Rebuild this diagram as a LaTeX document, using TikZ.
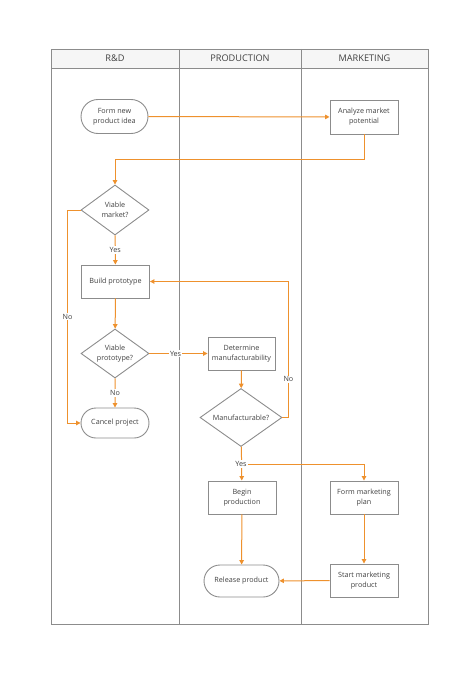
\documentclass[tikz,border=0pt]{standalone}
\usepackage{fontspec}
\setmainfont{Open Sans}
\usepackage{tikz}
\usetikzlibrary{shapes.geometric,shapes.misc,arrows.meta}
\definecolor{flowc}{RGB}{238,145,45}
\definecolor{edgec}{RGB}{140,140,140}
\definecolor{txtc}{RGB}{65,65,65}

\begin{document}
\begin{tikzpicture}[x=1pt,y=-1pt,
  every node/.style={font=\fontsize{7.2}{10}\selectfont,text=txtc,align=center},
  box/.style={draw=edgec,line width=0.9pt,rectangle,minimum width=68pt,minimum height=33pt,inner sep=0pt},
  term/.style={draw=edgec,line width=0.9pt,rounded rectangle,minimum width=68pt,minimum height=32pt,inner sep=0pt},
  decide/.style={draw=edgec,line width=0.9pt,diamond,aspect=1.4,minimum width=68pt,minimum height=50pt,inner sep=0pt},
  flow/.style={draw=flowc,line width=1pt,-{Triangle[width=4.5pt,length=4.5pt]}},
  lbl/.style={fill=white,inner sep=1pt}]
\useasboundingbox (0,0) rectangle (474,677);
\fill[gray!7] (51,49) rectangle (428,68);
\draw[edgec,line width=0.9pt] (51,49) rectangle (428,624);
\draw[edgec,line width=0.9pt] (51,68) -- (428,68);
\draw[edgec,line width=0.9pt] (179,49) -- (179,624);
\draw[edgec,line width=0.9pt] (301,49) -- (301,624);
\node[font=\fontsize{9.2}{10}\selectfont] (rd) at (115,58.5) {R\&D};
\node[font=\fontsize{9.2}{10}\selectfont] (prod) at (240,58.5) {PRODUCTION};
\node[font=\fontsize{9.2}{10}\selectfont] (mkt) at (364.5,58.5) {MARKETING};

\node[term,minimum width=67pt,minimum height=34pt] (idea) at (114.5,116.5) {Form new\\product idea};
\node[box,minimum height=34pt] (analyze) at (364,117) {Analyze market\\potential};
\node[decide] (vmarket) at (115,210) {Viable\\market?};
\node[box] (build) at (115.5,281.5) {Build prototype};
\node[decide,minimum height=49pt] (vproto) at (115,353.5) {Viable\\prototype?};
\node[term,minimum height=30pt] (cancel) at (115,423) {Cancel project};
\node[box,minimum width=67pt] (determ) at (241.5,353.5) {Determine\\manufacturability};
\node[decide,minimum width=82pt,minimum height=58pt] (manuf) at (241,417.5) {Manufacturable?};
\node[box] (begin) at (242,497.5) {Begin\\production};
\node[box] (plan) at (364,497.5) {Form marketing\\plan};
\node[term,minimum width=75pt,minimum height=32pt] (release) at (241.5,581) {Release product};
\node[box] (start) at (364,580.5) {Start marketing\\product};

\draw[flow] (idea) -- (analyze);
\draw[flow] (analyze.south) -- ++(0,25) -| (vmarket.north);
\draw[flow] (vmarket.west) -- ++(-13,0) |- node[lbl,pos=0.25] {No} (cancel.west);
\draw[flow] (vmarket) -- node[lbl] {Yes} (build);
\draw[flow] (build) -- (vproto);
\draw[flow] (vproto) -- node[lbl,pos=0.45] {Yes} (determ);
\draw[flow] (vproto) -- node[lbl] {No} (cancel);
\draw[flow] (determ) -- (manuf);
\draw[flow] (manuf.east) -- ++(6,0) |- node[lbl,pos=0.14] {No} (build.east);
\coordinate (split) at (241,464);
\draw[flow] (manuf) -- (begin);
\draw[flow] (split) -| (plan.north);
\node[lbl] (yes3) at (split) {Yes};
\draw[flow] (begin) -- (release);
\draw[flow] (plan) -- (start);
\draw[flow] (start) -- (release);
\end{tikzpicture}
\end{document}
